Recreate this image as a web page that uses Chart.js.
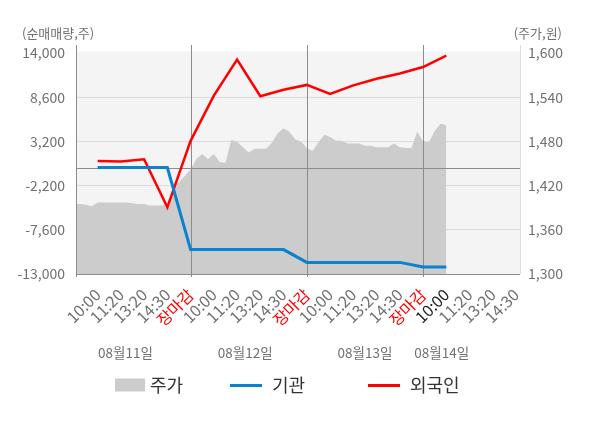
<!DOCTYPE html>
<html><head><meta charset="utf-8">
<script src="https://cdn.jsdelivr.net/npm/chart.js@4.4.0/dist/chart.umd.min.js"></script>
<style>html,body{margin:0;padding:0;background:#fff;}#wrap{width:600px;height:428px;position:relative;}canvas{display:block;}</style>
</head><body><div id="wrap"><canvas id="c" width="600" height="428" style="width:600px;height:428px"></canvas></div>
<script>
// ---- data ----
const xTickLabels = ['10:00','11:20','13:20','14:30','장마감','10:00','11:20','13:20','14:30','장마감','10:00','11:20','13:20','14:30','장마감','10:00','11:20','13:20','14:30'];
const dateLabels = ['08월11일','08월12일','08월13일','08월14일'];
const institution = [0,0,0,0,-10020,-10020,-10020,-10020,-10020,-11580,-11580,-11580,-11580,-11580,-12140,-12140];
const foreign = [820,750,1010,-4850,3270,8800,13200,8720,9500,10100,9000,10050,10850,11500,12280,13670];
const price = [1395,1395,1394,1392,1397,1397,1397,1397,1397,1397,1396,1395,1395,1393,1393,1393,1395,1418,1425,1433,
               1442,1456,1463,1456,1463,1452,1451,1482,1480,1472,1465,1470,1470,1470,1478,1491,1498,1493,1483,1480,
               1471,1467,1479,1489,1486,1481,1481,1477,1477,1477,1474,1474,1472,1472,1472,1477,1472,1471,1471,1493,
               1480,1479,1494,1504,1502];
const leftTicks = [14000,8600,3200,-2200,-7600,-13000];
const rightTicks = [1600,1540,1480,1420,1360,1300];
const seriesNames = ['주가','기관','외국인'];

// ---- config ----
const FONT = "'Noto Sans CJK KR','Noto Sans',sans-serif";
const PRICE_STEP = 0.25;
const fmt = v => String(v).replace(/\B(?=(\d{3})+(?!\d))/g, ',');

const priceData = price.map((v, i) => ({x: i * PRICE_STEP, y: v}));
const instData = institution.map((v, i) => ({x: i + 1, y: v}));
const forData = foreign.map((v, i) => ({x: i + 1, y: v}));

const decor = {
  id: 'decor',
  beforeDraw(chart) {
    const {ctx, chartArea: a} = chart;
    ctx.save();
    ctx.fillStyle = '#f4f4f4';
    ctx.fillRect(a.left, a.top - 1.5, a.right - a.left, a.bottom - a.top + 1.5);
    ctx.restore();
  },
  afterDatasetDraw(chart, args) {
    if (args.index !== 0) return;
    const {ctx, chartArea: a, scales} = chart;
    ctx.save();
    ctx.lineWidth = 1;
    ctx.strokeStyle = '#dcdcdc';
    ctx.beginPath(); ctx.moveTo(a.right + 0.5, a.top - 8); ctx.lineTo(a.right + 0.5, a.bottom); ctx.stroke();
    ctx.strokeStyle = '#8c8c8c';
    const y0 = Math.round(scales.y.getPixelForValue(0)) + 0.5;
    ctx.beginPath(); ctx.moveTo(a.left, y0); ctx.lineTo(a.right, y0); ctx.stroke();
    const xs = [a.left, scales.x.getPixelForValue(5), scales.x.getPixelForValue(10), scales.x.getPixelForValue(15)];
    xs.forEach(x => {
      const px = Math.round(x) + 0.5;
      ctx.beginPath(); ctx.moveTo(px, a.top - 8); ctx.lineTo(px, a.bottom + 3); ctx.stroke();
    });
    ctx.beginPath(); ctx.moveTo(a.left, a.bottom + 0.5); ctx.lineTo(a.right, a.bottom + 0.5); ctx.stroke();
    ctx.restore();
  },
  afterDraw(chart) {
    const {ctx, scales} = chart;
    ctx.save();
    ctx.textBaseline = 'middle';
    ctx.fillStyle = '#707070';
    ctx.font = '13px ' + FONT;
    ctx.textAlign = 'left';
    ctx.fillText('(순매매량,주)', 22, 33);
    ctx.textAlign = 'right';
    ctx.fillText('(주가,원)', 562, 33);
    const datePos = [2.2, 7.35, 12.5, 15.8];
    ctx.textAlign = 'center';
    ctx.font = '13.5px ' + FONT;
    dateLabels.forEach((d, i) => ctx.fillText(d, scales.x.getPixelForValue(datePos[i]), 353));
    const ly = 385;
    ctx.font = '18px ' + FONT;
    ctx.textAlign = 'left';
    ctx.fillStyle = '#cccccc';
    ctx.fillRect(115, ly - 6.5, 30, 13);
    ctx.fillStyle = '#333';
    ctx.fillText(seriesNames[0], 150, ly);
    ctx.lineWidth = 3;
    ctx.strokeStyle = '#0a82cd';
    ctx.beginPath(); ctx.moveTo(230, ly + 0.5); ctx.lineTo(262, ly + 0.5); ctx.stroke();
    ctx.fillText(seriesNames[1], 272, ly);
    ctx.strokeStyle = '#ff0000';
    ctx.beginPath(); ctx.moveTo(368, ly + 0.5); ctx.lineTo(400, ly + 0.5); ctx.stroke();
    ctx.fillText(seriesNames[2], 410, ly);
    ctx.restore();
  }
};

new Chart(document.getElementById('c'), {
  type: 'line',
  data: {
    datasets: [
      {label: seriesNames[0], data: priceData, yAxisID: 'y1', fill: 'start', backgroundColor: '#cccccc',
       borderWidth: 0, borderColor: 'rgba(0,0,0,0)', pointRadius: 0, tension: 0, order: 3},
      {label: seriesNames[1], data: instData, yAxisID: 'y', borderColor: '#0a82cd', borderWidth: 3,
       pointRadius: 0, tension: 0, fill: false, order: 1},
      {label: seriesNames[2], data: forData, yAxisID: 'y', borderColor: '#ff0000', borderWidth: 2.5,
       pointRadius: 0, tension: 0, fill: false, order: 2}
    ]
  },
  options: {
    responsive: false,
    animation: false,
    devicePixelRatio: 1,
    layout: {padding: {top: 53, left: 0, right: 0, bottom: 0}},
    plugins: {legend: {display: false}, tooltip: {enabled: false}},
    scales: {
      x: {
        type: 'linear', min: 0.07, max: 19.17,
        afterBuildTicks: s => { s.ticks = xTickLabels.map((_, i) => ({value: i + 1})); },
        afterFit: s => { s.height = 154; },
        grid: {display: false},
        border: {display: false},
        ticks: {
          autoSkip: false, maxRotation: 45, minRotation: 45, padding: 3,
          font: {size: 16, family: FONT},
          color: c => { const i = Math.round(c.tick.value) - 1; return xTickLabels[i] === '장마감' ? '#ff0000' : (i === 15 ? '#222' : '#707070'); },
          callback: v => xTickLabels[Math.round(v) - 1]
        }
      },
      y: {
        position: 'left', min: -13000, max: 14000,
        afterBuildTicks: s => { s.ticks = leftTicks.map(v => ({value: v})); },
        afterFit: s => { s.width = 76; },
        grid: {color: c => (c.tick && (c.tick.value === 14000 || c.tick.value === -13000)) ? 'rgba(0,0,0,0)' : '#dddddd', drawTicks: false, lineWidth: 1},
        border: {display: false},
        ticks: {padding: 11, color: '#707070', font: {size: 14, family: FONT}, callback: v => fmt(v)}
      },
      y1: {
        position: 'right', min: 1300, max: 1600,
        afterBuildTicks: s => { s.ticks = rightTicks.map(v => ({value: v})); },
        afterFit: s => { s.width = 80; },
        grid: {display: false, drawTicks: false},
        border: {display: false},
        ticks: {padding: 8, color: '#707070', font: {size: 14, family: FONT}, callback: v => fmt(v)}
      }
    }
  },
  plugins: [decor]
});
</script>
</body></html>
